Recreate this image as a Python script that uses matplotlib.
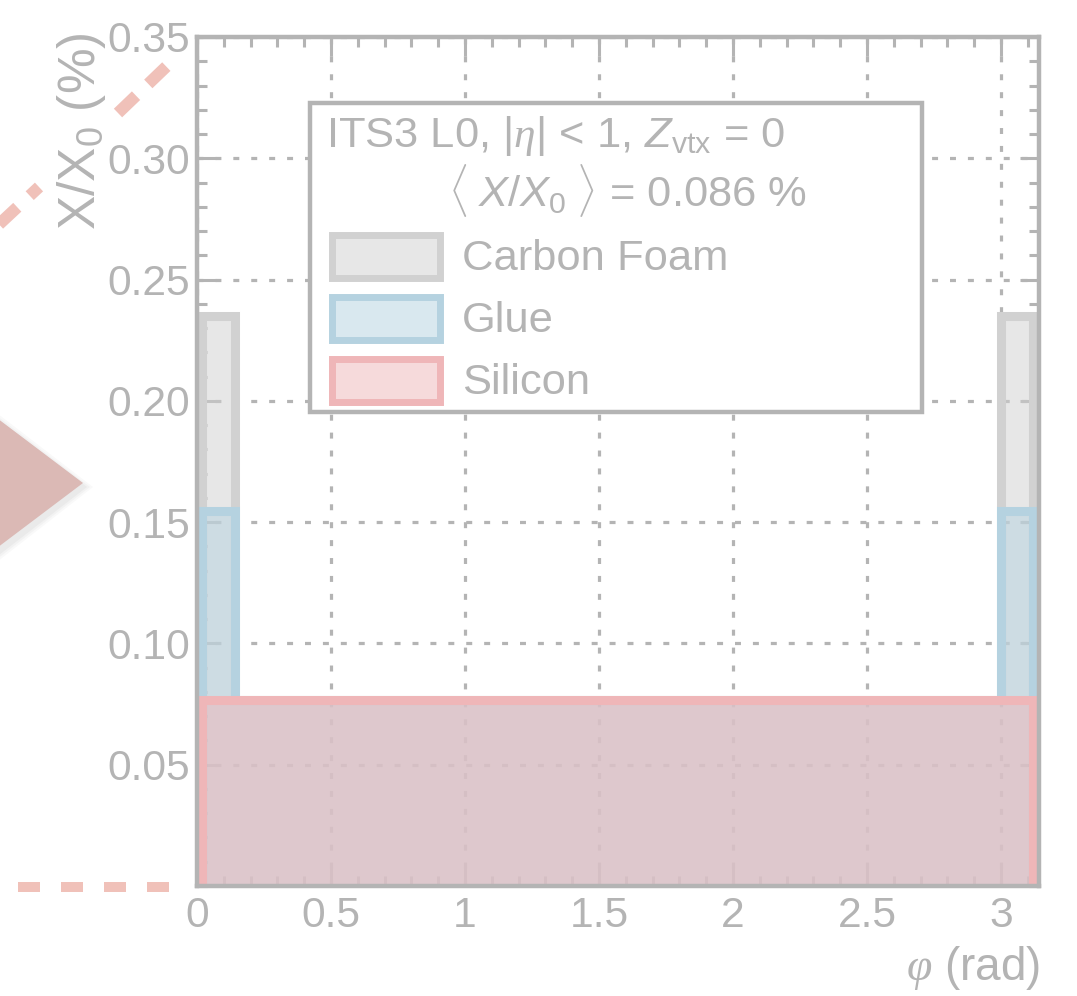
import matplotlib
matplotlib.use("Agg")
import numpy as np
import matplotlib.pyplot as plt
from matplotlib.patches import Polygon, Rectangle
from matplotlib.lines import Line2D
from matplotlib.transforms import Affine2D
from matplotlib.ticker import MultipleLocator, FixedLocator, FixedFormatter

# ---------------------------------------------------------------------------
# Material budget of ITS3 layer 0 versus azimuth (stacked contributions, %)
# ---------------------------------------------------------------------------
phi_edges = [0.02, 0.14, 3.00, 3.12]
silicon = [0.0766, 0.0766, 0.0766]
glue = [0.0779, 0.0, 0.0779]
carbon_foam = [0.0804, 0.0, 0.0804]

legend_labels = ["Carbon Foam", "Glue", "Silicon"]
header_text = r"ITS3 L0, |$\mathcal{\eta}$| < 1, $Z_{\mathrm{vtx}}$ = 0"
mean_text = r"$\langle\;X/X_{0}\;\rangle$ = 0.086 %"

x_ticks = [0, 0.5, 1, 1.5, 2, 2.5, 3]
x_tick_labels = ["0", "0.5", "1", "1.5", "2", "2.5", "3"]
y_ticks = [0.05, 0.10, 0.15, 0.20, 0.25, 0.30, 0.35]
y_tick_labels = ["0.05", "0.10", "0.15", "0.20", "0.25", "0.30", "0.35"]

# colours
GREY = "#b4b4b4"
C_CARBON = "#d1d1d1"
C_GLUE = "#b5d2e0"
C_SILICON = "#efb6b8"
C_DECOR = "#f0c1b9"
C_ARROW = "#dbb9b5"

plt.rcParams.update({
    "font.family": ["Liberation Sans", "DejaVu Sans"],
    "mathtext.fontset": "custom",
    "mathtext.rm": "Liberation Sans",
    "mathtext.it": "Liberation Sans:italic",
    "mathtext.cal": "Liberation Serif:italic",
    "mathtext.sf": "Liberation Sans",
    "lines.scale_dashes": False,
    "text.color": GREY,
    "axes.labelcolor": GREY,
})

W, H = 1077, 996
fig = plt.figure(figsize=(W / 100, H / 100), dpi=100)
fig.patch.set_facecolor("white")
# helper transform: pixel coordinates measured from the top-left corner
pix = Affine2D().scale(1.0 / W, -1.0 / H).translate(0, 1) + fig.transFigure

ax = fig.add_axes([197 / W, 1 - 886 / H, 842 / W, 849 / H])
ax.set_xlim(0, np.pi)
ax.set_ylim(0, 0.35)
ax.set_axisbelow(True)

# --- stacked histograms ----------------------------------------------------
si = np.array(silicon)
cum_glue = si + np.array(glue)
cum_carbon = cum_glue + np.array(carbon_foam)

for values, colour in [(cum_carbon, C_CARBON), (cum_glue, C_GLUE), (si, C_SILICON)]:
    ax.stairs(values, phi_edges, baseline=0, fill=True, facecolor=colour,
              alpha=0.5, linewidth=0, zorder=1)
    ax.stairs(values, phi_edges, baseline=0, fill=False, color=colour,
              linewidth=6.5, zorder=1.1)

# --- axes styling ------------------------------------------------------------
ax.xaxis.set_major_locator(FixedLocator(x_ticks))
ax.xaxis.set_major_formatter(FixedFormatter(x_tick_labels))
ax.xaxis.set_minor_locator(MultipleLocator(0.1))
ax.yaxis.set_major_locator(FixedLocator(y_ticks))
ax.yaxis.set_major_formatter(FixedFormatter(y_tick_labels))
ax.yaxis.set_minor_locator(MultipleLocator(0.01))

for s in ax.spines.values():
    s.set_color(GREY)
    s.set_linewidth(3.2)

ax.tick_params(which="both", direction="in", top=True, right=True,
               color=GREY, width=2.2, labelcolor=GREY, labelsize=30.7)
ax.tick_params(which="major", length=14)
ax.tick_params(which="minor", length=7)
ax.tick_params(axis="x", which="major", pad=7)
ax.tick_params(axis="y", which="major", pad=5)

ax.grid(True, which="major", color=GREY, linewidth=2.3,
        linestyle=(0, (4.3, 8.6)))

ax.set_ylabel(r"X/X$_{0}$ (%)", fontsize=37, loc="top", va="baseline",
              rotation_mode="anchor")
ax.yaxis.set_label_coords((95 - 197) / 842, (886 - 32) / 849)
ax.set_xlabel(r"$\mathcal{\varphi}$ (rad)", fontsize=33, ha="right",
              va="baseline")
ax.xaxis.set_label_coords((1040 - 197) / 842, (886 - 980) / 849)

# --- legend box --------------------------------------------------------------
leg_box = Rectangle((310, 103), 612, 309, transform=pix, facecolor="white",
                    edgecolor=GREY, linewidth=3.2, zorder=5, clip_on=False)
fig.add_artist(leg_box)
fig.text(326, 147, header_text, transform=pix, fontsize=31.3, color=GREY,
         ha="left", va="baseline", zorder=6)
fig.text(448, 207, mean_text, transform=pix, fontsize=31.3, color=GREY,
         ha="left", va="baseline", zorder=6)

for i, (label, colour) in enumerate(zip(legend_labels,
                                        [C_CARBON, C_GLUE, C_SILICON])):
    top = 235.5 + i * 62
    fig.add_artist(Rectangle((331.5, top), 108, 43, transform=pix,
                             facecolor=colour, alpha=0.5, linewidth=0,
                             zorder=6))
    fig.add_artist(Rectangle((331.5, top), 108, 43, transform=pix,
                             facecolor="none", edgecolor=colour,
                             linewidth=5, zorder=6.1))
    fig.text(462, 270 + i * 62, label, transform=pix, fontsize=31.3,
             color=GREY, ha="left", va="baseline", zorder=6)

# --- slide decorations around the plot ---------------------------------------
for k, a in zip([10, 7, 4], [0.05, 0.06, 0.08]):
    shadow = Polygon([(-80, 360 - k + 4), (83 + k, 484 + 3), (-80, 608 + k + 4)],
                     closed=True, transform=pix, facecolor="#8c8c8c",
                     alpha=a, linewidth=0, zorder=0)
    fig.add_artist(shadow)
fig.add_artist(Polygon([(-80, 360), (83, 483), (-80, 606)], closed=True,
                       transform=pix, facecolor=C_ARROW, linewidth=0,
                       zorder=0.2))

diag_a = Line2D([-10.0, 39.0], [232.7, 187.0], transform=pix, color=C_DECOR,
                linewidth=8.6, dash_capstyle="butt",
                linestyle=(0, (18, 12.24)))
diag_b = Line2D([118.0, 168.0], [113.0, 65.0], transform=pix, color=C_DECOR,
                linewidth=8.6, dash_capstyle="butt",
                linestyle=(0, (18, 12.24)))
horiz = Line2D([18.0, 169.0], [887.0, 887.0], transform=pix, color=C_DECOR,
               linewidth=7.2, dash_capstyle="butt",
               linestyle=(0, (15.84, 15.12)))
for ln in (diag_a, diag_b, horiz):
    fig.add_artist(ln)

fig.savefig("out.png", dpi=100)
